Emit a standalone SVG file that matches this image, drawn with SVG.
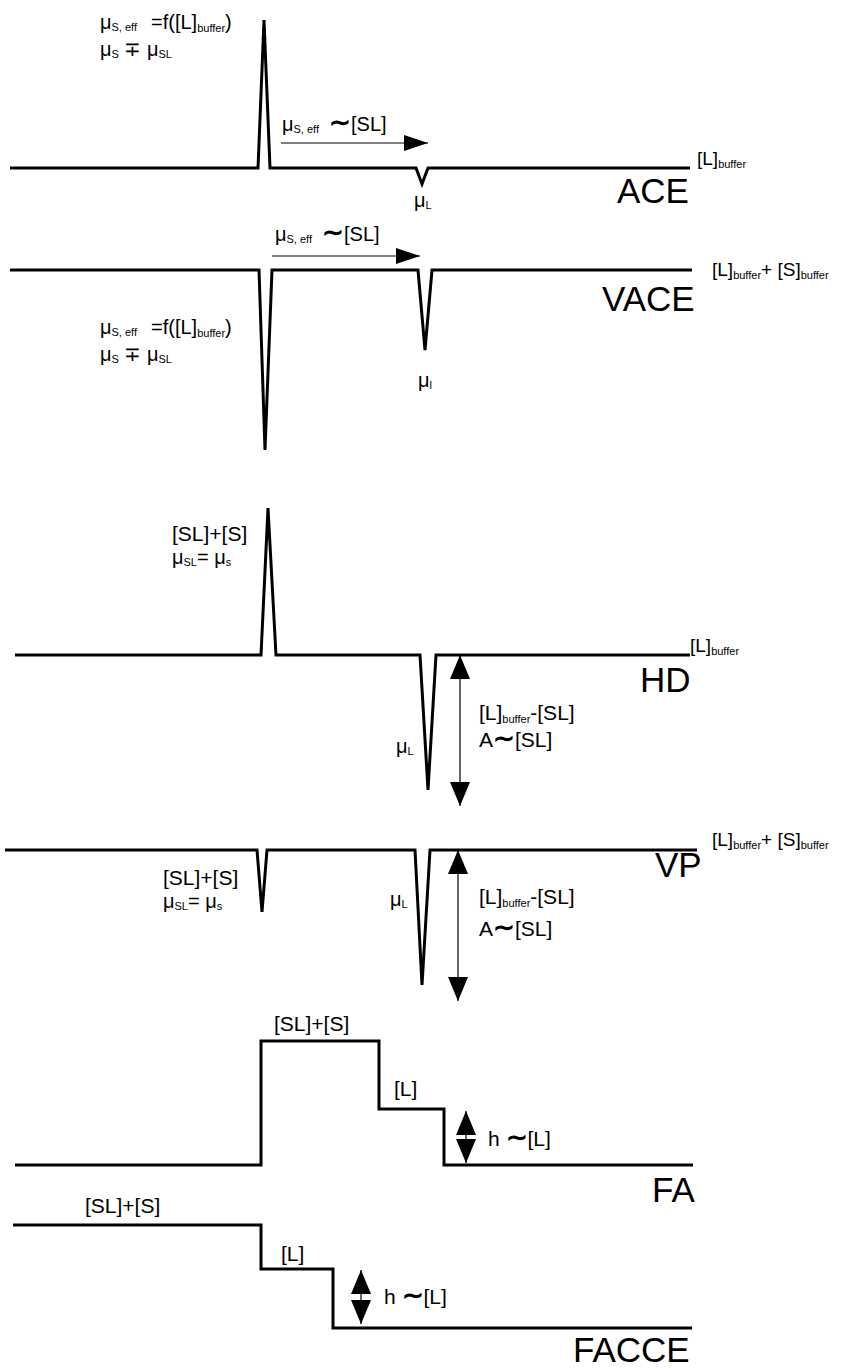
<svg xmlns="http://www.w3.org/2000/svg" width="861" height="1369" viewBox="0 0 861 1369">
<style>
text{font-family:"Liberation Sans",Arial,sans-serif;fill:#000}
.t{font-size:21px}
.u{font-size:20px}
.s{font-size:11px}
.b{font-size:35px}
.m{font-size:19px}
.tl{font-size:26px;font-weight:bold}
.tr{fill:none;stroke:#000;stroke-width:3;stroke-linejoin:miter}
.ar{stroke:#000;stroke-width:1.2;fill:none}
</style>
<defs>
<marker id="ah" viewBox="0 0 24 16" refX="24" refY="8" markerWidth="24" markerHeight="16" markerUnits="userSpaceOnUse" orient="auto-start-reverse">
<path d="M0,0 L24,8 L0,16 Z" fill="#000"/>
</marker>
<marker id="ah2" viewBox="0 0 24 20" refX="24" refY="10" markerWidth="24" markerHeight="20" markerUnits="userSpaceOnUse" orient="auto-start-reverse">
<path d="M0,0 L24,10 L0,20 Z" fill="#000"/>
</marker>
</defs>

<g id="ace">
<path class="tr" d="M10,168 L258,168 L264,20 L270,168 L416,168 L422,184 L428,168 L690,168"/>
<text x="100" y="29" class="u">μ<tspan class="s" dy="2">S, eff</tspan><tspan dx="14" dy="-2">=f([L]</tspan><tspan class="s" dy="3">buffer</tspan><tspan dy="-3">)</tspan></text>
<text x="100" y="56" class="u">μ<tspan class="s" dy="2">S</tspan><tspan dy="-2"> ∓ μ</tspan><tspan class="s" dy="2">SL</tspan></text>
<text x="282" y="131" class="u">μ<tspan class="s" dy="2">S, eff</tspan><tspan class="tl" dx="10" dy="-2">∼</tspan><tspan>[SL]</tspan></text>
<path class="ar" d="M281,143 L428,143" marker-end="url(#ah)"/>
<text x="414" y="207" class="u">μ<tspan class="s" dy="2">L</tspan></text>
<text x="697" y="165" class="m">[L]<tspan class="s" dy="3">buffer</tspan></text>
<text x="617" y="203" class="b">ACE</text>
</g>

<g id="vace">
<path class="tr" d="M10,270 L259,270 L265,450 L272,270 L418,270 L425,350 L432,270 L692,270"/>
<text x="275" y="241" class="u">μ<tspan class="s" dy="2">S, eff</tspan><tspan class="tl" dx="10" dy="-2">∼</tspan><tspan>[SL]</tspan></text>
<path class="ar" d="M272,256 L420,256" marker-end="url(#ah)"/>
<text x="100" y="334" class="u">μ<tspan class="s" dy="2">S, eff</tspan><tspan dx="14" dy="-2">=f([L]</tspan><tspan class="s" dy="3">buffer</tspan><tspan dy="-3">)</tspan></text>
<text x="100" y="361" class="u">μ<tspan class="s" dy="2">S</tspan><tspan dy="-2"> ∓ μ</tspan><tspan class="s" dy="2">SL</tspan></text>
<text x="418" y="387" class="u">μ<tspan class="s" dy="2">l</tspan></text>
<text x="712" y="276" class="m">[L]<tspan class="s" dy="3">buffer</tspan><tspan dy="-3">+ [S]</tspan><tspan class="s" dy="3">buffer</tspan></text>
<text x="602" y="311" class="b">VACE</text>
</g>

<g id="hd">
<path class="tr" d="M15,655 L261,655 L268,508 L276,655 L420,655 L428,790 L436,655 L690,655"/>
<text x="172" y="541" class="t">[SL]+[S]</text>
<text x="172" y="564" class="u">μ<tspan class="s" dy="2">SL</tspan><tspan dy="-2">= μ</tspan><tspan class="s" dy="2">s</tspan></text>
<text x="396" y="753" class="u">μ<tspan class="s" dy="2">L</tspan></text>
<text x="479" y="720" class="t">[L]<tspan class="s" dy="3">buffer</tspan><tspan dy="-3">-[SL]</tspan></text>
<text x="479" y="747" class="t">A<tspan class="tl">∼</tspan>[SL]</text>
<text x="690" y="652" class="m">[L]<tspan class="s" dy="3">buffer</tspan></text>
<text x="640" y="692" class="b">HD</text>
</g>

<g id="vp">
<path class="tr" d="M5,850 L257,850 L262,912 L267,850 L415,850 L422,985 L430,850 L697,850"/>
<text x="163" y="885" class="t">[SL]+[S]</text>
<text x="163" y="908" class="u">μ<tspan class="s" dy="2">SL</tspan><tspan dy="-2">= μ</tspan><tspan class="s" dy="2">s</tspan></text>
<text x="390" y="906" class="u">μ<tspan class="s" dy="2">L</tspan></text>
<text x="479" y="904" class="t">[L]<tspan class="s" dy="3">buffer</tspan><tspan dy="-3">-[SL]</tspan></text>
<text x="479" y="936" class="t">A<tspan class="tl">∼</tspan>[SL]</text>
<text x="712" y="846" class="m">[L]<tspan class="s" dy="3">buffer</tspan><tspan dy="-3">+ [S]</tspan><tspan class="s" dy="3">buffer</tspan></text>
<text x="655" y="877" class="b">VP</text>
</g>

<g id="fa">
<path class="tr" d="M15,1165 L261,1165 L261,1041 L379,1041 L379,1109 L444,1109 L444,1165 L693,1165"/>
<text x="274" y="1031" class="t">[SL]+[S]</text>
<text x="394" y="1096" class="t">[L]</text>
<text x="488" y="1146" class="t">h <tspan class="tl">∼</tspan>[L]</text>
<text x="652" y="1202" class="b">FA</text>
</g>

<g id="facce">
<path class="tr" d="M13,1225 L261,1225 L261,1269 L333,1269 L333,1328 L692,1328"/>
<text x="85" y="1213" class="t">[SL]+[S]</text>
<text x="281" y="1261" class="t">[L]</text>
<text x="384" y="1304" class="t">h <tspan class="tl">∼</tspan>[L]</text>
<text x="573" y="1362" class="b">FACCE</text>
</g>

<g id="connectors">
<path class="ar" d="M460,655 L460,806" marker-start="url(#ah2)" marker-end="url(#ah2)"/>
<path class="ar" d="M458,850 L458,1001" marker-start="url(#ah2)" marker-end="url(#ah2)"/>
<path class="ar" d="M466,1111 L466,1163" marker-start="url(#ah2)" marker-end="url(#ah2)"/>
<path class="ar" d="M361,1270 L361,1324" marker-start="url(#ah2)" marker-end="url(#ah2)"/>
</g>
</svg>
